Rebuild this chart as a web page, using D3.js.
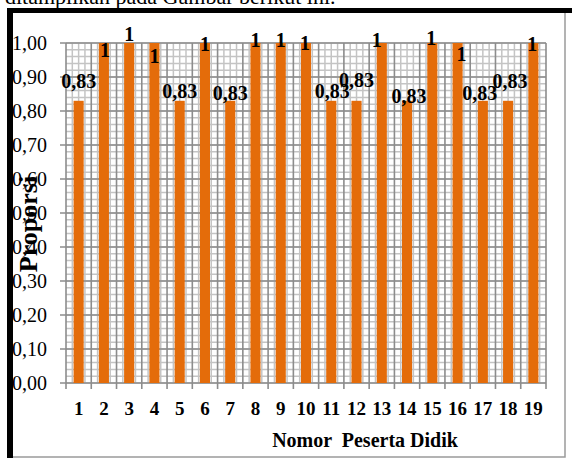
<!DOCTYPE html>
<html>
<head>
<meta charset="utf-8">
<script src="https://cdn.jsdelivr.net/npm/d3@7"></script>
<style>
  body { margin: 0; background: #fff; }
  svg { display: block; }
  svg text { font-family: "Liberation Serif", "Times New Roman", Tinos, "DejaVu Serif", serif; }
</style>
</head>
<body>
<div id="chart"></div>
<script>
// data
const students = ["1","2","3","4","5","6","7","8","9","10","11","12","13","14","15","16","17","18","19"];
const proportions = [0.83, 1, 1, 1, 0.83, 1, 0.83, 1, 1, 1, 0.83, 0.83, 1, 0.83, 1, 1, 0.83, 0.83, 1];
const yTicks = [0, 0.1, 0.2, 0.3, 0.4, 0.5, 0.6, 0.7, 0.8, 0.9, 1.0];

// hand placed data labels (dx, dy of baseline from bar top), like in the original
const labelNudge = [[0,-13],[1,14],[0,-2],[0,20],[0,-3],[0,8],[0,-1],[0,4],[0,4],[-1,7],
                    [1,-3],[0,-14],[-5,4],[2,2],[-1,2],[4,18],[-3,-1],[2,-13],[-1,8]];

const W = 572, H = 458;
const plot = { left: 66, right: 546, top: 43, bottom: 383 };

const loc = d3.formatLocale({ decimal: ",", thousands: ".", grouping: [3], currency: ["", ""] });
const fmtAxis = loc.format(".2f");
const fmtLabel = v => v === 1 ? "1" : loc.format(".2f")(v);

const svg = d3.select("#chart").append("svg")
    .attr("width", W)
    .attr("height", H);

// caption line of the page above the figure (cut off)
svg.append("text")
    .attr("x", 5)
    .attr("y", 4)
    .attr("font-size", 22)
    .text("ditampilkan pada Gambar berikut ini.");

const x = d3.scaleBand()
    .domain(students)
    .range([plot.left, plot.right])
    .paddingInner(0.6)
    .paddingOuter(0.3);

const y = d3.scaleLinear()
    .domain([0, 1])
    .range([plot.bottom, plot.top]);

const step = x.step();
const edge = d => x(d) + x.bandwidth() / 2 - step / 2;

// minor grid
const grid = svg.append("g");
grid.selectAll(".hminor")
    .data(y.ticks(50))
    .enter().append("line")
    .attr("x1", plot.left).attr("x2", plot.right)
    .attr("y1", d => y(d)).attr("y2", d => y(d))
    .attr("stroke", "#c4c4c4")
    .attr("stroke-width", 1.5);

const quarters = [];
students.forEach(s => { [1, 2, 3].forEach(k => quarters.push(edge(s) + k * step / 4)); });
grid.selectAll(".vminor")
    .data(quarters)
    .enter().append("line")
    .attr("x1", d => d).attr("x2", d => d)
    .attr("y1", plot.top).attr("y2", plot.bottom)
    .attr("stroke", "#c4c4c4")
    .attr("stroke-width", 1.5);

// major grid
grid.selectAll(".hmajor")
    .data(yTicks)
    .enter().append("line")
    .attr("x1", plot.left - 6).attr("x2", plot.right)
    .attr("y1", d => y(d)).attr("y2", d => y(d))
    .attr("stroke", "#8c8c8c")
    .attr("stroke-width", 1.6);

grid.selectAll(".vmajor")
    .data(students.map(edge).concat([plot.right]))
    .enter().append("line")
    .attr("x1", d => d).attr("x2", d => d)
    .attr("y1", plot.top).attr("y2", plot.bottom + 6)
    .attr("stroke", "#8c8c8c")
    .attr("stroke-width", 1.6);

// bars
svg.selectAll(".bar")
    .data(proportions)
    .enter().append("rect")
    .attr("x", (d, i) => x(students[i]))
    .attr("y", d => y(d))
    .attr("width", x.bandwidth())
    .attr("height", d => y(0) - y(d))
    .attr("fill", "#e46c0a");

// data labels
svg.selectAll(".lbl")
    .data(proportions)
    .enter().append("text")
    .attr("x", (d, i) => x(students[i]) + x.bandwidth() / 2 + labelNudge[i][0])
    .attr("y", (d, i) => y(d) + labelNudge[i][1])
    .attr("text-anchor", "middle")
    .attr("font-size", 20)
    .attr("font-weight", "bold")
    .text(d => fmtLabel(d));

// axes (labels only, grid drawn above)
const yAxis = svg.append("g")
    .attr("transform", `translate(${plot.left},0)`)
    .call(d3.axisLeft(y).tickValues(yTicks).tickFormat(fmtAxis).tickSize(6).tickPadding(13));
yAxis.attr("font-family", null);
yAxis.select(".domain").remove();
yAxis.selectAll("line").remove();
yAxis.selectAll("text")
    .attr("font-size", 20)
    .attr("fill", "#000");

const xAxis = svg.append("g")
    .attr("transform", `translate(0,${plot.bottom})`)
    .call(d3.axisBottom(x).tickSize(0).tickPadding(19));
xAxis.attr("font-family", null);
xAxis.select(".domain").remove();
xAxis.selectAll("text")
    .attr("font-size", 19)
    .attr("font-weight", "bold")
    .attr("fill", "#000");

// axis titles
svg.append("text")
    .attr("x", 365)
    .attr("y", 447)
    .attr("text-anchor", "middle")
    .attr("font-size", 20)
    .attr("font-weight", "bold")
    .style("white-space", "pre")
    .text("Nomor  Peserta Didik");

svg.append("text")
    .attr("transform", "translate(37,224) rotate(-90)")
    .attr("text-anchor", "middle")
    .attr("font-size", 26)
    .attr("font-weight", "bold")
    .text("Proporsi");

// frame of the figure
svg.append("rect")
    .attr("x", 8).attr("y", 12)
    .attr("width", 557).attr("height", 445)
    .attr("fill", "none")
    .attr("stroke", "#9a9a9a")
    .attr("stroke-width", 1.5);

svg.append("rect")
    .attr("x", 7).attr("y", 8)
    .attr("width", W - 7).attr("height", 5)
    .attr("fill", "#000");

svg.append("rect")
    .attr("x", 7).attr("y", 8)
    .attr("width", 6).attr("height", H - 8)
    .attr("fill", "#000");
</script>
</body>
</html>
